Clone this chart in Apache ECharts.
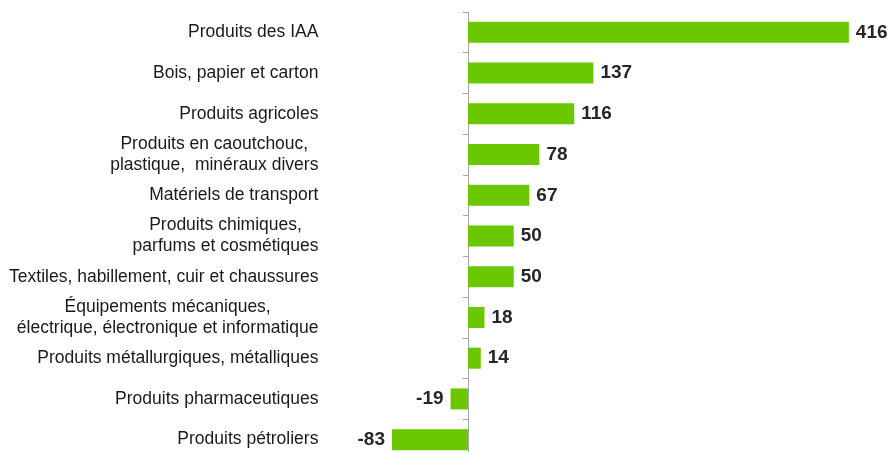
<!DOCTYPE html>
<html><head><meta charset="utf-8">
<script src="https://cdn.jsdelivr.net/npm/echarts@6/dist/echarts.min.js"></script>
<style>html,body{margin:0;padding:0;background:#fff}#c{width:890px;height:452px}</style>
</head><body><div id="c"></div>
<script>
const categories = [
  "Produits des IAA",
  "Bois, papier et carton",
  "Produits agricoles",
  "Produits en caoutchouc,\nplastique,  minéraux divers",
  "Matériels de transport",
  "Produits chimiques,\nparfums et cosmétiques",
  "Textiles, habillement, cuir et chaussures",
  "Équipements mécaniques,\nélectrique, électronique et informatique",
  "Produits métallurgiques, métalliques",
  "Produits pharmaceutiques",
  "Produits pétroliers"
];
const values = [416, 137, 116, 78, 67, 50, 50, 18, 14, -19, -83];

const chart = echarts.init(document.getElementById('c'));
chart.setOption({
  animation: false,
  grid: { left: 376.4, right: 10, top: 12, bottom: -8, containLabel: false, outerBoundsMode: 'none' },
  xAxis: { type: 'value', min: -100, max: 450, show: false, splitLine: { show: false } },
  yAxis: {
    type: 'category', data: categories, inverse: true,
    axisLine: { onZero: true, lineStyle: { color: '#a6a6a6', width: 1 } },
    axisTick: { show: true, length: 5, inside: false, lineStyle: { color: '#a6a6a6' } },
    axisLabel: {
      margin: 58, align: 'right', color: '#1a1a1a',
      fontFamily: 'Liberation Sans, Arial, sans-serif', fontSize: 17.5, lineHeight: 21,
      formatter: function (v) { return v.split('\n').map(function (s) { return '{c|' + s + '}'; }).join('\n'); },
      rich: { c: { align: 'center', fontSize: 17.5, lineHeight: 21, color: '#1a1a1a', fontFamily: 'Liberation Sans, Arial, sans-serif' } }
    }
  },
  series: [{
    type: 'bar', barWidth: 21,
    data: values.map(function (v) { return v < 0 ? { value: v, label: { position: 'left' } } : v; }),
    itemStyle: { color: '#6AC700' },
    label: {
      show: true, distance: 7, color: '#262626', fontWeight: 'bold', fontSize: 19,
      fontFamily: 'Liberation Sans, Arial, sans-serif',
      position: 'right'
    }
  }]
});
</script></body></html>
